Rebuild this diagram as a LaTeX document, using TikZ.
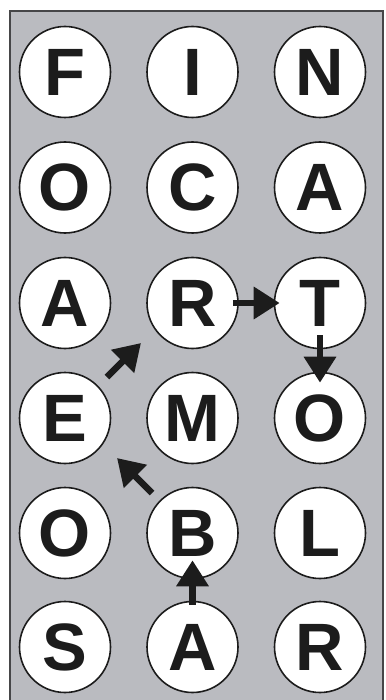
\documentclass[tikz,border=0pt]{standalone}
\usepackage{fontspec}
\setmainfont{Liberation Sans}
\usetikzlibrary{arrows.meta}
\definecolor{panelgrey}{RGB}{186,187,192}
\definecolor{edgegrey}{RGB}{70,70,72}
\definecolor{ink}{RGB}{28,28,28}
\begin{document}
\begin{tikzpicture}[x=1pt,y=-1pt,
  letter/.style={circle,draw=ink,line width=1.6pt,fill=white,minimum size=91pt,inner sep=0pt,
    font=\fontsize{67}{67}\selectfont\bfseries,text=ink},
  arr/.style={draw=ink,line width=6.5pt,-{Triangle[length=26pt,width=31pt]}}]
\useasboundingbox (0,0) rectangle (385,700);
\fill[panelgrey] (10,11) rectangle (383,700);
\draw[edgegrey,line width=2pt] (10,700) -- (10,11) -- (383,11) -- (383,700);
% column 1
\node[letter] (F)  at (65,72)    {F};
\node[letter] (O1) at (65,187.5) {O};
\node[letter] (A1) at (65,303)   {A};
\node[letter] (E)  at (65,418)   {E};
\node[letter] (O2) at (65,533)   {O};
\node[letter] (S)  at (65,647)   {S};
% column 2
\node[letter] (I)  at (192.5,72)    {I};
\node[letter] (C)  at (192.5,187.5) {C};
\node[letter] (R1) at (192.5,303)   {R};
\node[letter] (M)  at (192.5,418)   {M};
\node[letter] (B)  at (192.5,533)   {B};
\node[letter] (A3) at (192.5,647)   {A};
% column 3
\node[letter] (N)  at (320,72)    {N};
\node[letter] (A2) at (320,187.5) {A};
\node[letter] (T)  at (320,303)   {T};
\node[letter] (O3) at (320,418)   {O};
\node[letter] (L)  at (320,533)   {L};
\node[letter] (R2) at (320,647)   {R};
% free arrow ends
\coordinate (d1s) at (107,377);
\coordinate (d1e) at (141,343);
\coordinate (d2s) at (152,493);
\coordinate (d2e) at (117,458);
% arrows
\draw[arr,shorten <=-6pt,shorten >=-6pt] (R1) -- (T);
\draw[arr,shorten <=-14pt,shorten >=-11pt] (T) -- (O3);
\draw[arr,shorten <=-4pt,shorten >=-19pt] (A3) -- (B);
\draw[arr] (d1s) -- (d1e);
\draw[arr] (d2s) -- (d2e);
\end{tikzpicture}
\end{document}
